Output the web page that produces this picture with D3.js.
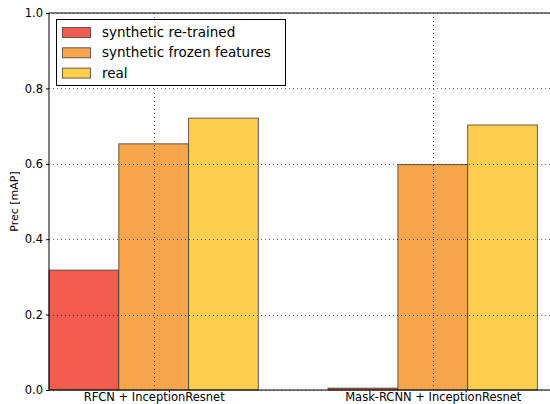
<!DOCTYPE html>
<html>
<head>
<meta charset="utf-8">
<script src="https://cdn.jsdelivr.net/npm/d3@7"></script>
<style>
  html, body { margin: 0; padding: 0; background: #fff; }
  svg { display: block; font-family: "DejaVu Sans", sans-serif; }
</style>
</head>
<body>
<svg id="chart" width="550" height="404"></svg>
<script>
// Detection precision per model and training setup
const models = ["RFCN + InceptionResnet", "Mask-RCNN + InceptionResnet"];
const seriesNames = ["synthetic re-trained", "synthetic frozen features", "real"];
const retrained = [0.318, 0.005];
const frozen = [0.653, 0.598];
const real = [0.721, 0.703];
const yTicks = [0.0, 0.2, 0.4, 0.6, 0.8, 1.0];
const colors = ["#f15b50", "#f7a54b", "#fdcd4e"];

const series = [retrained, frozen, real];
const barWidth = 0.25;

const svg = d3.select("#chart");
const margin = { left: 49, right: -2, top: 13, bottom: 14 };
const W = 550, H = 404;

// numeric x positions: group i centred at i, bars of width 0.25
const x = d3.scaleLinear().domain([-0.375, 1.4272]).range([margin.left, W - margin.right]);
const y = d3.scaleLinear().domain([0, 1]).range([H - margin.bottom, margin.top]);

const g = svg.append("g");

// bars
series.forEach((vals, si) => {
  g.selectAll(null).data(vals).enter().append("rect")
    .attr("x", (d, i) => x(i - 0.375 + si * barWidth))
    .attr("width", (d, i) => x(i - 0.375 + (si + 1) * barWidth) - x(i - 0.375 + si * barWidth))
    .attr("y", d => y(d))
    .attr("height", d => y(0) - y(d))
    .attr("fill", colors[si])
    .attr("stroke", "#333")
    .attr("stroke-opacity", 0.75)
    .attr("stroke-width", 1);
});

// dotted grid
const grid = svg.append("g");
yTicks.forEach(t => {
  grid.append("line")
    .attr("x1", x.range()[0]).attr("x2", x.range()[1])
    .attr("y1", Math.round(y(t)) + 0.5).attr("y2", Math.round(y(t)) + 0.5)
    .attr("stroke", "#000").attr("stroke-opacity", 0.6)
    .attr("stroke-dasharray", "1,3");
});
models.forEach((m, i) => {
  grid.append("line")
    .attr("x1", Math.round(x(i)) + 0.5).attr("x2", Math.round(x(i)) + 0.5)
    .attr("y1", y.range()[0]).attr("y2", y.range()[1])
    .attr("stroke", "#000").attr("stroke-opacity", 0.6)
    .attr("stroke-dasharray", "1,3");
});

// frame
svg.append("rect")
  .attr("x", x.range()[0]).attr("y", y.range()[1])
  .attr("width", x.range()[1] - x.range()[0])
  .attr("height", y.range()[0] - y.range()[1])
  .attr("fill", "none").attr("stroke", "#000").attr("stroke-width", 1);

// y axis
const yAxis = d3.axisLeft(y).tickValues(yTicks).tickFormat(d3.format(".1f")).tickSize(3).tickPadding(3);
const ya = svg.append("g").attr("transform", `translate(${x.range()[0]},0)`).call(yAxis);
ya.select(".domain").remove();
ya.selectAll("text").attr("font-size", 11.5).attr("fill", "#000").attr("font-family", "DejaVu Sans");

// x axis labels
const xAxis = d3.axisBottom(x).tickValues([0, 1]).tickFormat((d, i) => models[i]).tickSize(0).tickPadding(3);
const xa = svg.append("g").attr("transform", `translate(0,${y.range()[0]})`).call(xAxis);
xa.select(".domain").remove();
xa.selectAll("text").attr("font-size", 11.5).attr("fill", "#000").attr("font-family", "DejaVu Sans");

// y label
svg.append("text")
  .attr("transform", `translate(18,${(y(0) + y(1)) / 2}) rotate(-90)`)
  .attr("text-anchor", "middle")
  .attr("font-size", 11)
  .text("Prec [mAP]");

// legend
const lg = svg.append("g");
lg.append("rect")
  .attr("x", 56.5).attr("y", 19.5).attr("width", 229).attr("height", 66)
  .attr("fill", "#fff").attr("stroke", "#000");
seriesNames.forEach((name, i) => {
  const yy = 27 + i * 20.3;
  lg.append("rect")
    .attr("x", 62.5).attr("y", yy + 0.5).attr("width", 28).attr("height", 10)
    .attr("fill", colors[i]).attr("stroke", "#333").attr("stroke-opacity", 0.75);
  lg.append("text")
    .attr("x", 102).attr("y", yy + 10)
    .attr("font-size", 13.5)
    .text(name);
});
</script>
</body>
</html>
